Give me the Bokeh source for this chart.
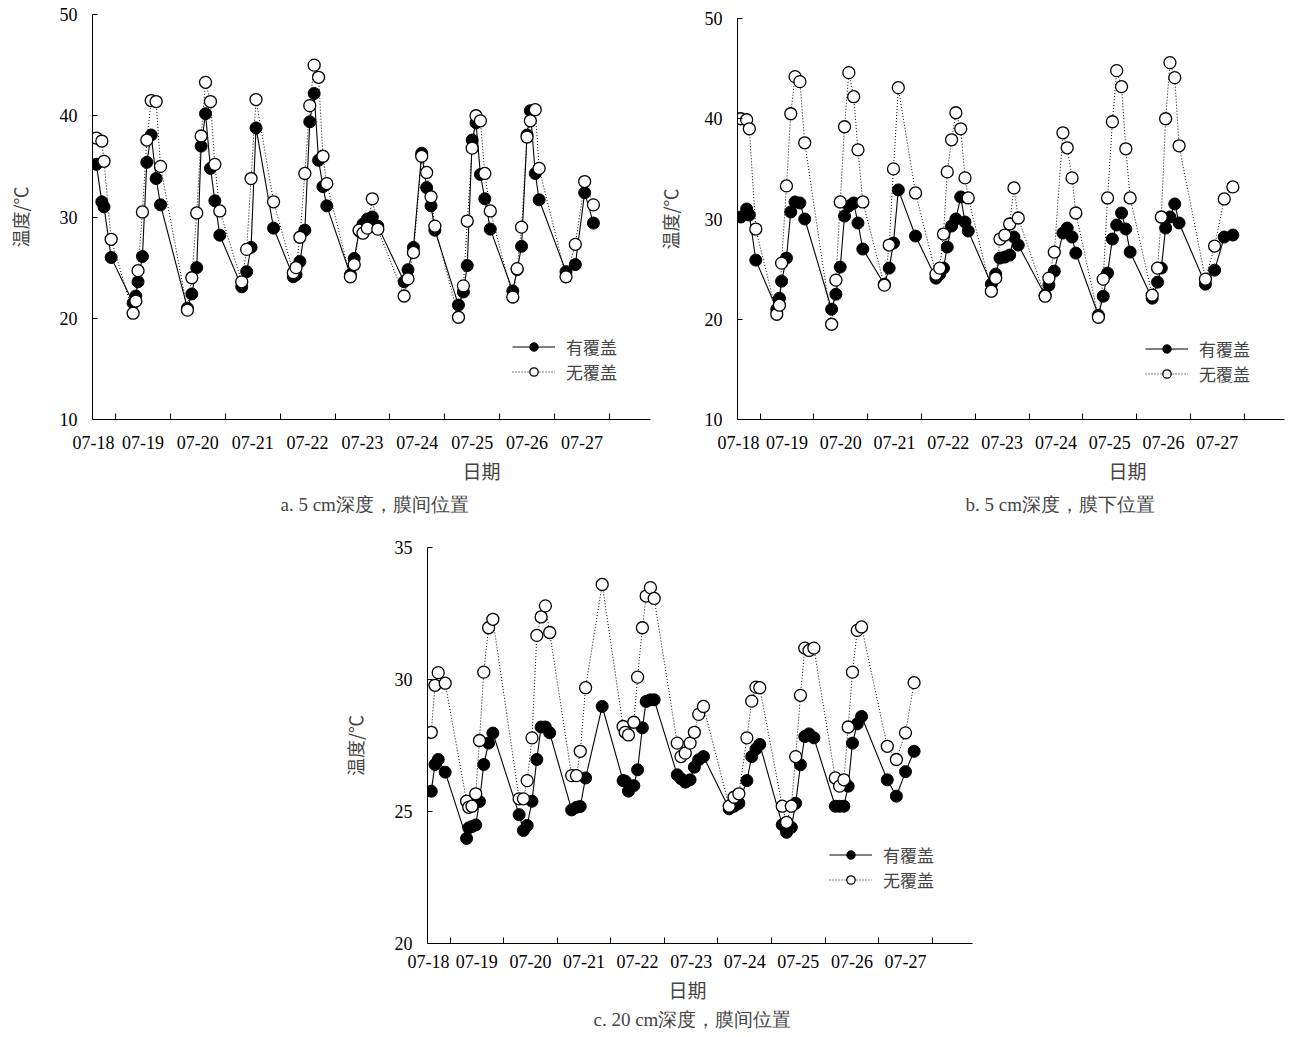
from bokeh.plotting import figure
from bokeh.layouts import column, row
from bokeh.models import FixedTicker, Legend, LegendItem, Title, Spacer, Range1d
from bokeh.embed import file_html
from bokeh.resources import INLINE

# ---------------- data ----------------
dates = ["07-18", "07-19", "07-20", "07-21", "07-22", "07-23", "07-24", "07-25", "07-26", "07-27"]
label_pos = [0.6, 1.5, 2.5, 3.5, 4.5, 5.5, 6.5, 7.5, 8.5, 9.5]
day_bounds = [1, 2, 3, 4, 5, 6, 7, 8, 9, 10]
legend_names = ["有覆盖", "无覆盖"]

# panel a: 5 cm depth, between films
a_x = [0.65, 0.75, 0.79, 0.92,
       1.32, 1.37, 1.41, 1.49, 1.57, 1.65, 1.74, 1.82,
       2.31, 2.39, 2.48, 2.56, 2.64, 2.73, 2.81, 2.90,
       3.30, 3.39, 3.47, 3.56, 3.88,
       4.24, 4.29, 4.36, 4.45, 4.54, 4.62, 4.70, 4.78, 4.85,
       5.28, 5.35, 5.44, 5.51, 5.59, 5.68, 5.78,
       6.26, 6.33, 6.43, 6.58, 6.67, 6.75, 6.82,
       7.25, 7.34, 7.41, 7.50, 7.57, 7.65, 7.73, 7.83,
       8.24, 8.32, 8.40, 8.50, 8.56, 8.65, 8.72,
       9.21, 9.38, 9.55, 9.71]
a_cov = [35.2, 31.5, 31.0, 26.0,
         21.5, 22.2, 23.6, 26.1, 35.4, 38.1, 33.8, 31.2,
         21.0, 22.4, 25.0, 37.0, 40.2, 34.8, 31.6, 28.2,
         23.1, 24.6, 27.0, 38.8, 28.9,
         24.1, 24.3, 25.6, 28.7, 39.4, 42.2, 35.6, 33.0, 31.1,
         24.3, 25.9, 28.6, 29.3, 29.8, 30.0, 29.1,
         23.6, 24.8, 27.0, 36.3, 32.9, 31.1, 28.7,
         21.3, 22.6, 25.2, 37.6, 39.3, 34.2, 31.8, 28.8,
         22.7, 24.8, 27.1, 38.1, 40.5, 34.3, 31.7,
         24.6, 25.3, 32.4, 29.4]
a_unc = [37.8, 37.5, 35.5, 27.8,
         20.5, 21.7, 24.7, 30.5, 37.6, 41.5, 41.4, 35.0,
         20.8, 24.0, 30.4, 38.0, 43.3, 41.4, 35.2, 30.6,
         23.6, 26.8, 33.8, 41.6, 31.5,
         24.5, 25.0, 28.0, 34.3, 41.0, 45.0, 43.8, 36.0, 33.3,
         24.1, 25.3, 28.7, 28.4, 28.9, 31.8, 28.8,
         22.2, 23.9, 26.5, 36.0, 34.4, 32.0, 29.1,
         20.1, 23.2, 29.6, 36.8, 40.0, 39.5, 34.3, 30.6,
         22.1, 24.9, 29.0, 37.9, 39.5, 40.6, 34.8,
         24.1, 27.3, 33.5, 31.2]

# panel b: 5 cm depth, under film
b_x = [0.64, 0.75, 0.80, 0.92,
       1.31, 1.36, 1.40, 1.49, 1.57, 1.65, 1.74, 1.83,
       2.33, 2.41, 2.49, 2.57, 2.65, 2.74, 2.82, 2.91,
       3.31, 3.40, 3.48, 3.57, 3.89,
       4.27, 4.34, 4.41, 4.48, 4.56, 4.64, 4.73, 4.81, 4.87,
       5.30, 5.38, 5.46, 5.55, 5.64, 5.72, 5.80,
       6.30, 6.37, 6.47, 6.63, 6.71, 6.80, 6.87,
       7.29, 7.38, 7.46, 7.55, 7.63, 7.72, 7.80, 7.88,
       8.29, 8.39, 8.46, 8.54, 8.62, 8.71, 8.79,
       9.28, 9.45, 9.63, 9.79]
b_cov = [30.2, 31.0, 30.4, 25.9,
         21.0, 22.1, 23.8, 26.1, 30.7, 31.7, 31.6, 30.0,
         21.0, 22.5, 25.2, 30.3, 31.3, 31.6, 29.6, 27.0,
         23.5, 25.1, 27.6, 32.9, 28.3,
         24.1, 24.5, 25.1, 27.2, 29.3, 30.0, 32.2, 29.7, 28.8,
         23.5, 24.5, 26.1, 26.2, 26.4, 28.2, 27.4,
         22.4, 23.4, 24.8, 28.6, 29.1, 28.2, 26.6,
         20.4, 22.3, 24.6, 28.0, 29.4, 30.6, 29.0, 26.7,
         22.1, 23.7, 25.1, 29.1, 30.2, 31.5, 29.6,
         23.5, 24.9, 28.2, 28.4]
b_unc = [40.0, 39.9, 39.0, 29.0,
         20.5, 21.4, 25.6, 33.3, 40.5, 44.2, 43.7, 37.6,
         19.5, 23.9, 31.7, 39.2, 44.6, 42.2, 36.9, 31.7,
         23.4, 27.4, 35.0, 43.1, 32.6,
         24.5, 25.1, 28.5, 34.7, 37.9, 40.6, 39.0, 34.1, 32.1,
         22.8, 24.1, 28.0, 28.4, 29.5, 33.1, 30.1,
         22.3, 24.1, 26.7, 38.6, 37.1, 34.1, 30.6,
         20.2, 24.0, 32.1, 39.7, 44.8, 43.2, 37.0, 32.1,
         22.4, 25.1, 30.2, 40.0, 45.6, 44.1, 37.3,
         24.0, 27.3, 32.0, 33.2]

# panel c: 20 cm depth, between films
c_x = [0.65, 0.72, 0.78, 0.91,
       1.31, 1.35, 1.41, 1.48, 1.55, 1.63, 1.72, 1.80,
       2.29, 2.37, 2.44, 2.53, 2.62, 2.70, 2.78, 2.86,
       3.27, 3.36, 3.43, 3.53, 3.84,
       4.23, 4.27, 4.33, 4.43, 4.50, 4.59, 4.66, 4.74, 4.81,
       5.24, 5.31, 5.39, 5.48, 5.56, 5.64, 5.73,
       6.21, 6.30, 6.39, 6.54, 6.63, 6.71, 6.78,
       7.20, 7.28, 7.37, 7.45, 7.54, 7.62, 7.70, 7.79,
       8.19, 8.27, 8.35, 8.43, 8.51, 8.60, 8.68,
       9.16, 9.33, 9.50, 9.66]
c_cov = [25.77, 26.78, 26.97, 26.49,
         23.98, 24.38, 24.43, 24.49, 25.38, 26.78, 27.59, 27.97,
         24.88, 24.28, 24.47, 25.39, 26.97, 28.20, 28.20, 27.98,
         25.06, 25.16, 25.19, 26.27, 28.98,
         26.17, 26.15, 25.77, 25.98, 26.58, 28.17, 29.17, 29.23, 29.23,
         26.39, 26.24, 26.11, 26.20, 26.68, 26.96, 27.08,
         25.10, 25.20, 25.31, 26.17, 27.08, 27.37, 27.54,
         24.50, 24.21, 24.40, 25.31, 26.77, 27.84, 27.94, 27.79,
         25.20, 25.20, 25.20, 25.96, 27.59, 28.32, 28.60,
         26.20, 25.58, 26.51, 27.28]
c_unc = [28.00, 29.78, 30.26, 29.86,
         25.39, 25.16, 25.20, 25.67, 27.69, 30.28, 31.96, 32.28,
         25.48, 25.48, 26.17, 27.79, 31.67, 32.37, 32.79, 31.78,
         26.36, 26.36, 27.28, 29.69, 33.60,
         28.22, 28.00, 27.90, 28.38, 30.09, 31.96, 33.16, 33.48, 33.07,
         27.59, 27.08, 27.21, 27.59, 28.00, 28.68, 28.98,
         25.20, 25.54, 25.67, 27.79, 29.18, 29.71, 29.69,
         25.20, 24.59, 25.20, 27.08, 29.40, 31.19, 31.10, 31.19,
         26.27, 25.96, 26.20, 28.20, 30.28, 31.86, 31.99,
         27.47, 26.97, 27.98, 29.88]

y_ticks_5cm = [10, 20, 30, 40, 50]
y_ticks_20cm = [20, 25, 30, 35]

SERIF = "Liberation Serif"
CJK = "Noto Sans CJK SC"
X_START, X_END = 0.58, 10.75


def make_panel(x, cov, unc, yr, yticks, caption, width, height, borders,
               leg_x, leg_y1, leg_y2, xlab_offset, cap_offset, stand, ylab_sd):
    left, right, top, bottom = borders
    tick_sd, xlab_sd, cap_sd = stand
    p = figure(width=width, height=height,
               x_range=Range1d(X_START, X_END), y_range=Range1d(*yr),
               output_backend="svg", toolbar_location=None,
               min_border_left=left, min_border_right=right,
               min_border_top=top, min_border_bottom=bottom)
    p.outline_line_color = None
    p.grid.visible = False

    r1 = p.line(x, cov, line_color="black", line_width=1.1)
    r2 = p.line(x, unc, line_color="black", line_width=1, line_dash="1 2")
    s1 = p.scatter(x, cov, marker="circle", size=12, fill_color="black",
                   line_color="black", line_width=1)
    s2 = p.scatter(x, unc, marker="circle", size=12, fill_color="white",
                   line_color="black", line_width=1.3)

    xa = p.xaxis[0]
    xa.ticker = FixedTicker(ticks=label_pos, minor_ticks=day_bounds)
    xa.major_label_overrides = {pos: lab for pos, lab in zip(label_pos, dates)}
    xa.major_tick_in = 0
    xa.major_tick_out = 0
    xa.minor_tick_in = 6
    xa.minor_tick_out = 0
    xa.minor_tick_line_color = "black"
    xa.axis_line_color = "black"
    xa.major_label_text_font = SERIF
    xa.major_label_text_font_size = "18px"
    xa.major_label_text_color = "black"
    xa.major_label_standoff = tick_sd

    ya = p.yaxis[0]
    ya.ticker = FixedTicker(ticks=yticks, minor_ticks=[])
    ya.major_tick_in = 5
    ya.major_tick_out = 0
    ya.minor_tick_in = 0
    ya.minor_tick_out = 0
    ya.major_tick_line_color = "black"
    ya.axis_line_color = "black"
    ya.major_label_text_font = SERIF
    ya.major_label_text_font_size = "18px"
    ya.major_label_text_color = "black"
    ya.major_label_standoff = 15
    ya.axis_label = "温度/℃"
    ya.axis_label_text_font = CJK
    ya.axis_label_text_font_size = "18px"
    ya.axis_label_text_font_style = "normal"
    ya.axis_label_standoff = ylab_sd

    leg_style = dict(border_line_color=None, background_fill_alpha=0,
                     label_text_font=CJK, label_text_font_size="17px",
                     glyph_width=43, glyph_height=21, label_height=21,
                     spacing=0, padding=0, margin=0, label_standoff=11)
    p.add_layout(Legend(items=[LegendItem(label=legend_names[0], renderers=[r1, s1])],
                        location=(leg_x, leg_y1), **leg_style))
    p.add_layout(Legend(items=[LegendItem(label=legend_names[1], renderers=[r2, s2])],
                        location=(leg_x, leg_y2), **leg_style))

    p.add_layout(Title(text="日期", align="left", offset=xlab_offset,
                       text_font=CJK, text_font_size="19px",
                       text_font_style="normal", standoff=xlab_sd), "below")
    p.add_layout(Title(text=caption, align="left", offset=cap_offset,
                       text_font=SERIF, text_font_size="19px",
                       text_font_style="normal", standoff=cap_sd), "below")
    return p


pa = make_panel(a_x, a_cov, a_unc, (10, 50), y_ticks_5cm, "a. 5 cm深度，膜间位置",
                652, 527, (92, 2, 14, 108), 420, 60, 35, 370, 188, (16, 6, 10), 24)
pb = make_panel(b_x, b_cov, b_unc, (10, 50), y_ticks_5cm, "b. 5 cm深度，膜下位置",
                633, 523, (85, 1, 14, 108), 408, 58, 33, 371, 228, (16, 6, 10), 19)
pc = make_panel(c_x, c_cov, c_unc, (20, 35), y_ticks_20cm, "c. 20 cm深度，膜间位置",
                654, 509, (89, 20, 20, 93), 402, 76, 51, 241, 166, (11, 6, 2), 24)

layout = column(row(pa, column(Spacer(width=633, height=4), pb)),
                row(Spacer(width=338, height=10), pc))

open("out.html", "w").write(file_html(layout, INLINE, "温度"))
